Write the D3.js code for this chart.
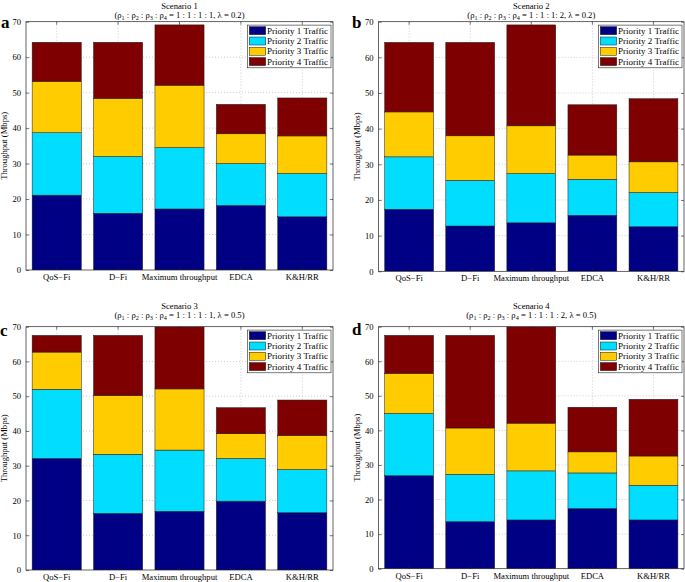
<!DOCTYPE html>
<html>
<head>
<meta charset="utf-8">
<script src="https://cdn.jsdelivr.net/npm/d3@7"></script>
<style>
  html, body { margin: 0; padding: 0; background: #fff; }
  svg { display: block; }
  text { font-family: "Liberation Serif", "Times New Roman", serif; fill: #000; }
</style>
</head>
<body>
<svg id="chart" width="685" height="582"></svg>
<script>
// ---------- data ----------
const categories = ["QoS\u2212Fi", "D\u2212Fi", "Maximum throughput", "EDCA", "K&H/RR"];
const seriesNames = ["Priority 1 Traffic", "Priority 2 Traffic", "Priority 3 Traffic", "Priority 4 Traffic"];
const yTicks = [0, 10, 20, 30, 40, 50, 60, 70];
const panelLetters = ["a", "b", "c", "d"];
const scenarioTitles = ["Scenario 1", "Scenario 2", "Scenario 3", "Scenario 4"];
const ratioLabels = ["1 : 1 : 1 : 1", "1 : 1 : 1: 2", "1 : 1 : 1 : 1", "1 : 1 : 1 : 2"];
const lambdaLabels = ["0.2", "0.2", "0.5", "0.5"];

// Scenario 1 (segment heights, Mbps)
const s1P1 = [21.1, 16.0, 17.2, 18.2, 15.0];
const s1P2 = [17.6, 16.0, 17.3, 11.8, 12.2];
const s1P3 = [14.5, 16.4, 17.6, 8.4, 10.6];
const s1P4 = [11.0, 15.8, 17.0, 8.3, 10.7];
// Scenario 2
const s2P1 = [17.4, 12.7, 13.6, 15.7, 12.5];
const s2P2 = [14.7, 12.8, 13.8, 10.1, 9.6];
const s2P3 = [12.6, 12.5, 13.4, 6.8, 8.6];
const s2P4 = [19.5, 26.2, 28.3, 14.1, 17.7];
// Scenario 3
const s3P1 = [32.1, 16.3, 16.9, 19.8, 16.5];
const s3P2 = [19.9, 17.0, 17.6, 12.3, 12.4];
const s3P3 = [10.7, 16.9, 17.6, 7.1, 9.8];
const s3P4 = [4.8, 17.3, 18.2, 7.5, 10.2];
// Scenario 4
const s4P1 = [26.9, 13.6, 14.1, 17.4, 14.1];
const s4P2 = [18.0, 13.7, 14.2, 10.3, 10.0];
const s4P3 = [11.6, 13.4, 13.8, 6.1, 8.5];
const s4P4 = [11.0, 26.8, 28.2, 12.9, 16.4];

const scenarioSeries = [
  [s1P1, s1P2, s1P3, s1P4],
  [s2P1, s2P2, s2P3, s2P4],
  [s3P1, s3P2, s3P3, s3P4],
  [s4P1, s4P2, s4P3, s4P4]
];

// ---------- styles / layout ----------
const colors = ["#000085", "#00DDFF", "#FFCC00", "#7F0000"];
const layouts = [
  {L: 26, R: 333, T: 21.7, B: 270, letterX: 1, letterY: 28, t1: 8.5, t2: 17.5},
  {L: 378.6, R: 684, T: 21.7, B: 271.3, letterX: 352, letterY: 28, t1: 8.5, t2: 17.5},
  {L: 26, R: 333, T: 326.7, B: 570, letterX: 0, letterY: 336, t1: 309, t2: 318},
  {L: 378.6, R: 684, T: 326.7, B: 568.7, letterX: 352, letterY: 335, t1: 309, t2: 318}
];
const fs = 8.6;

const svg = d3.select("#chart");

layouts.forEach((lay, pi) => {
  const g = svg.append("g");
  const x = d3.scaleBand().domain(categories).range([lay.L, lay.R]).paddingInner(0.2).paddingOuter(0.1);
  const y = d3.scaleLinear().domain([0, 70]).range([lay.B, lay.T]);

  const clipId = "clip" + pi;
  svg.append("clipPath").attr("id", clipId).append("rect")
    .attr("x", lay.L).attr("y", lay.T).attr("width", lay.R - lay.L).attr("height", lay.B - lay.T);

  // grid
  const grid = g.append("g").attr("stroke", "#9a9a9a").attr("stroke-width", 0.5).attr("stroke-dasharray", "1,2");
  grid.selectAll("line.h").data(yTicks.slice(1, -1)).join("line")
    .attr("x1", lay.L).attr("x2", lay.R).attr("y1", d => y(d)).attr("y2", d => y(d));
  grid.selectAll("line.v").data(categories).join("line")
    .attr("x1", d => x(d) + x.bandwidth() / 2).attr("x2", d => x(d) + x.bandwidth() / 2)
    .attr("y1", lay.T).attr("y2", lay.B);

  // stacked bars
  const rows = categories.map((c, i) => {
    const r = {cat: c};
    seriesNames.forEach((s, k) => r[s] = scenarioSeries[pi][k][i]);
    return r;
  });
  const stacked = d3.stack().keys(seriesNames)(rows);
  const bars = g.append("g").attr("clip-path", `url(#${clipId})`);
  stacked.forEach((layer, k) => {
    bars.append("g").attr("fill", colors[k]).attr("stroke", "#1a1a1a").attr("stroke-width", 0.5)
      .selectAll("rect").data(layer).join("rect")
      .attr("x", d => x(d.data.cat))
      .attr("width", x.bandwidth())
      .attr("y", d => y(d[1]))
      .attr("height", d => y(d[0]) - y(d[1]));
  });

  // axes
  const axL = g.append("g").attr("transform", `translate(${lay.L},0)`)
    .call(d3.axisLeft(y).tickValues(yTicks).tickFormat(d3.format("d")).tickSizeInner(-3).tickSizeOuter(0).tickPadding(5));
  const axR = g.append("g").attr("transform", `translate(${lay.R},0)`)
    .call(d3.axisRight(y).tickValues(yTicks).tickFormat("").tickSizeInner(-3).tickSizeOuter(0));
  const axB = g.append("g").attr("transform", `translate(0,${lay.B})`)
    .call(d3.axisBottom(x).tickSizeInner(-3).tickSizeOuter(0).tickPadding(4));
  const axT = g.append("g").attr("transform", `translate(0,${lay.T})`)
    .call(d3.axisTop(x).tickFormat("").tickSizeInner(-3).tickSizeOuter(0));
  [axL, axR, axB, axT].forEach(a => {
    a.select(".domain").remove();
    a.selectAll("line").attr("stroke", "#222").attr("stroke-width", 0.6);
    a.selectAll("text").attr("font-family", "Liberation Serif, Times New Roman, serif")
      .attr("font-size", fs).attr("fill", "#111");
  });

  // box
  g.append("rect").attr("x", lay.L).attr("y", lay.T).attr("width", lay.R - lay.L).attr("height", lay.B - lay.T)
    .attr("fill", "none").attr("stroke", "#222").attr("stroke-width", 0.7);

  // y label
  g.append("text")
    .attr("transform", `translate(${lay.L - 22},${(lay.T + lay.B) / 2}) rotate(-90)`)
    .attr("text-anchor", "middle").attr("dy", "0.35em").attr("font-size", fs)
    .text("Throughput (Mbps)");

  // titles
  const cx = (lay.L + lay.R) / 2;
  g.append("text").attr("x", cx).attr("y", lay.t1).attr("text-anchor", "middle").attr("font-size", fs)
    .text(scenarioTitles[pi]);
  const t2 = g.append("text").attr("x", cx).attr("y", lay.t2).attr("text-anchor", "middle").attr("font-size", fs);
  const parts = [];
  parts.push({t: "(\u03C1"});
  [1, 2, 3, 4].forEach((n, j) => {
    parts.push({t: String(n), sub: true});
    parts.push({t: j < 3 ? " : \u03C1" : " = " + ratioLabels[pi] + ", \u03BB = " + lambdaLabels[pi] + ")"});
  });
  parts.forEach(p => {
    const ts = t2.append("tspan").text(p.t);
    if (p.sub) ts.attr("font-size", 6.2).attr("dy", 2.2);
    else ts.attr("dy", p === parts[0] ? 0 : -2.2);
  });

  // panel letter
  svg.append("text").attr("x", lay.letterX).attr("y", lay.letterY)
    .attr("font-family", "Liberation Sans, Arial, sans-serif").attr("font-weight", "bold")
    .attr("font-size", 17).text(panelLetters[pi]);

  // legend
  const lw = 83.5, lh = 42.7;
  const lx = lay.R - 2 - lw, ly = lay.T + 3.4;
  const leg = g.append("g");
  leg.append("rect").attr("x", lx).attr("y", ly).attr("width", lw).attr("height", lh)
    .attr("fill", "#fff").attr("stroke", "#222").attr("stroke-width", 0.6);
  seriesNames.forEach((s, k) => {
    const cy = ly + 5.6 + k * 10.3;
    leg.append("rect").attr("x", lx + 1.8).attr("y", cy - 4).attr("width", 16.4).attr("height", 8)
      .attr("fill", colors[k]).attr("stroke", "#1a1a1a").attr("stroke-width", 0.5);
    leg.append("text").attr("x", lx + 19.6).attr("y", cy).attr("dy", "0.33em").attr("font-size", 9).text(s);
  });
});
</script>
</body>
</html>
